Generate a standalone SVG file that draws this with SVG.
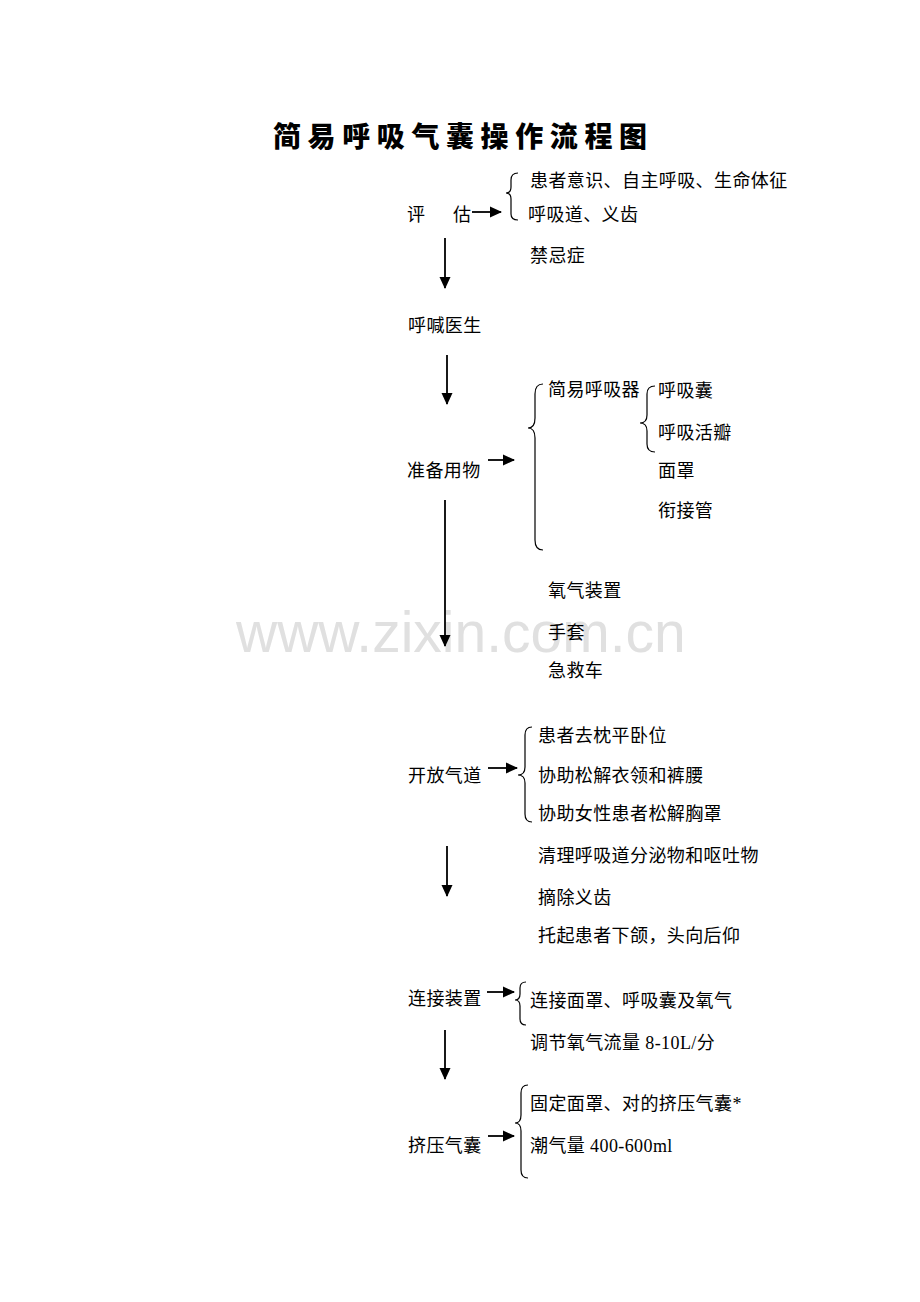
<svg xmlns="http://www.w3.org/2000/svg" width="920" height="1302" viewBox="0 0 920 1302">
<style>
.t{font-family:"Liberation Serif","Noto Sans CJK SC",serif;font-size:18px;fill:#000}
.title{font-family:"Noto Sans CJK SC",sans-serif;font-size:28px;font-weight:900;letter-spacing:6.6px;fill:#000}
.wm{font-family:"Liberation Sans",Arial,sans-serif;font-size:57px;fill:#e0e0e0}
.ln{stroke:#000;stroke-width:1.8;fill:none}
.br{stroke:#000;stroke-width:1.2;fill:none}
</style>
<defs>
<marker id="ah" markerUnits="userSpaceOnUse" markerWidth="12" markerHeight="12" viewBox="0 0 12 12" refX="11" refY="6" orient="auto">
<path d="M0,0.5 L12,6 L0,11.5 Z" fill="#000"/>
</marker>
</defs>
<rect width="920" height="1302" fill="#fff"/>
<text class="wm" x="236" y="652">www.zixin.com.cn</text>
<text class="title" x="273" y="147">简易呼吸气囊操作流程图</text>

<g id="connectors">
<line class="ln" x1="472" y1="212" x2="501" y2="212" marker-end="url(#ah)"/>
<line class="ln" x1="445" y1="238" x2="445" y2="288" marker-end="url(#ah)"/>
<line class="ln" x1="447" y1="355" x2="447" y2="404" marker-end="url(#ah)"/>
<line class="ln" x1="488" y1="460" x2="514" y2="460" marker-end="url(#ah)"/>
<line class="ln" x1="445" y1="500" x2="445" y2="646" marker-end="url(#ah)"/>
<line class="ln" x1="488" y1="768" x2="517" y2="768" marker-end="url(#ah)"/>
<line class="ln" x1="447" y1="846" x2="447" y2="896" marker-end="url(#ah)"/>
<line class="ln" x1="487" y1="992" x2="514" y2="992" marker-end="url(#ah)"/>
<line class="ln" x1="445" y1="1030" x2="445" y2="1079" marker-end="url(#ah)"/>
<line class="ln" x1="488" y1="1136" x2="514" y2="1136" marker-end="url(#ah)"/>
</g>

<g id="braces">
<path class="br" d="M518,173 Q511,173 511,180 L511,187 Q511,193 506,193 Q511,193 511,199 L511,214 Q511,220 518,220"/>
<path class="br" d="M543,384 Q535,384 535,394 L535,418 Q535,428 528,428 Q535,428 535,438 L535,540 Q535,550 543,550"/>
<path class="br" d="M655,386 Q647,386 647,394 L647,415 Q647,423 640,423 Q647,423 647,431 L647,444 Q647,452 655,452"/>
<path class="br" d="M532,727 Q525,727 525,735 L525,767 Q525,775 518,775 Q525,775 525,783 L525,814 Q525,822 532,822"/>
<path class="br" d="M526,982 Q520,982 520,988 L520,994 Q520,1000 515,1000 Q520,1000 520,1006 L520,1019 Q520,1025 526,1025"/>
<path class="br" d="M528,1085 Q521,1085 521,1093 L521,1115 Q521,1123 515,1123 Q521,1123 521,1131 L521,1170 Q521,1178 528,1178"/>
</g>

<g id="n-pinggu">
<text class="t" x="407" y="221">评</text>
<text class="t" x="453" y="221">估</text>
</g>
<g id="n-pinggu-items">
<text class="t" x="530" y="187" letter-spacing="0.4">患者意识、自主呼吸、生命体征</text>
<text class="t" x="528" y="221" letter-spacing="0.4">呼吸道、义齿</text>
<text class="t" x="530" y="262" letter-spacing="0.4">禁忌症</text>
</g>
<g id="n-huhan"><text class="t" x="408" y="332" letter-spacing="0.4">呼喊医生</text></g>
<g id="n-zhunbei"><text class="t" x="407" y="477" letter-spacing="0.4">准备用物</text></g>
<g id="n-zhunbei-items">
<text class="t" x="548" y="396" letter-spacing="0.4">简易呼吸器</text>
<text class="t" x="658" y="397" letter-spacing="0.4">呼吸囊</text>
<text class="t" x="658" y="439" letter-spacing="0.4">呼吸活瓣</text>
<text class="t" x="658" y="477" letter-spacing="0.4">面罩</text>
<text class="t" x="658" y="517" letter-spacing="0.4">衔接管</text>
<text class="t" x="548" y="597" letter-spacing="0.4">氧气装置</text>
<text class="t" x="548" y="639" letter-spacing="0.4">手套</text>
<text class="t" x="548" y="677" letter-spacing="0.4">急救车</text>
</g>
<g id="n-kaifang"><text class="t" x="408" y="782" letter-spacing="0.4">开放气道</text></g>
<g id="n-kaifang-items">
<text class="t" x="538" y="742" letter-spacing="0.4">患者去枕平卧位</text>
<text class="t" x="538" y="782" letter-spacing="0.4">协助松解衣领和裤腰</text>
<text class="t" x="538" y="820" letter-spacing="0.4">协助女性患者松解胸罩</text>
<text class="t" x="538" y="862" letter-spacing="0.4">清理呼吸道分泌物和呕吐物</text>
<text class="t" x="538" y="904" letter-spacing="0.4">摘除义齿</text>
<text class="t" x="538" y="942" letter-spacing="0.4">托起患者下颌，头向后仰</text>
</g>
<g id="n-lianjie"><text class="t" x="408" y="1005" letter-spacing="0.4">连接装置</text></g>
<g id="n-lianjie-items">
<text class="t" x="530" y="1007" letter-spacing="0.4">连接面罩、呼吸囊及氧气</text>
<text class="t" x="530" y="1049" letter-spacing="0.4">调节氧气流量 8-10L/分</text>
</g>
<g id="n-jiya"><text class="t" x="408" y="1152" letter-spacing="0.4">挤压气囊</text></g>
<g id="n-jiya-items">
<text class="t" x="530" y="1110" letter-spacing="0.4">固定面罩、对的挤压气囊*</text>
<text class="t" x="530" y="1152" letter-spacing="0.4">潮气量 400-600ml</text>
</g>
</svg>
